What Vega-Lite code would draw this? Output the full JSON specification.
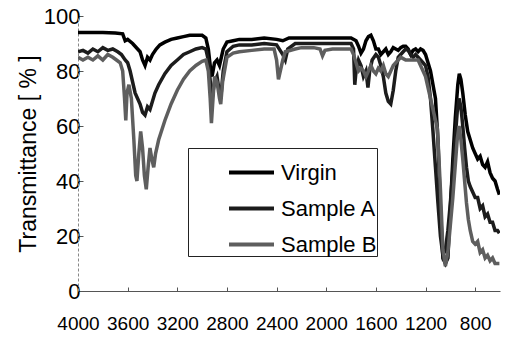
{
  "$schema": "https://vega.github.io/schema/vega-lite/v6.json",
  "width": 422,
  "height": 275,
  "autosize": "none",
  "padding": {"left": 78, "top": 16, "right": 9, "bottom": 48},
  "background": "white",
  "config": {
    "view": {"stroke": null},
    "axis": {"grid": false, "labelColor": "black", "titleColor": "black", "domainColor": "#555", "tickColor": "#555"}
  },
  "data": {
    "values": [
      {"s":"Virgin","x":4000,"y":94},{"s":"Virgin","x":3900,"y":94},{"s":"Virgin","x":3800,"y":94},{"s":"Virgin","x":3700,"y":93.8},{"s":"Virgin","x":3640,"y":93.5},{"s":"Virgin","x":3620,"y":91},{"s":"Virgin","x":3600,"y":91.5},{"s":"Virgin","x":3560,"y":90},{"s":"Virgin","x":3520,"y":88},{"s":"Virgin","x":3500,"y":87},{"s":"Virgin","x":3480,"y":84},{"s":"Virgin","x":3460,"y":82},{"s":"Virgin","x":3440,"y":85},{"s":"Virgin","x":3420,"y":84},{"s":"Virgin","x":3400,"y":86},{"s":"Virgin","x":3370,"y":88},{"s":"Virgin","x":3340,"y":89.5},{"s":"Virgin","x":3300,"y":90.5},{"s":"Virgin","x":3250,"y":91.5},{"s":"Virgin","x":3200,"y":92},{"s":"Virgin","x":3150,"y":92.5},{"s":"Virgin","x":3100,"y":93},{"s":"Virgin","x":3050,"y":93},{"s":"Virgin","x":3000,"y":93},{"s":"Virgin","x":2970,"y":92},{"s":"Virgin","x":2950,"y":88},{"s":"Virgin","x":2930,"y":80},{"s":"Virgin","x":2920,"y":78},{"s":"Virgin","x":2900,"y":83},{"s":"Virgin","x":2880,"y":84},{"s":"Virgin","x":2860,"y":82},{"s":"Virgin","x":2850,"y":84},{"s":"Virgin","x":2830,"y":88},{"s":"Virgin","x":2800,"y":90.5},{"s":"Virgin","x":2750,"y":91},{"s":"Virgin","x":2700,"y":91.5},{"s":"Virgin","x":2600,"y":91.5},{"s":"Virgin","x":2500,"y":92},{"s":"Virgin","x":2400,"y":91.5},{"s":"Virgin","x":2350,"y":91},{"s":"Virgin","x":2300,"y":92},{"s":"Virgin","x":2200,"y":92},{"s":"Virgin","x":2100,"y":92},{"s":"Virgin","x":2000,"y":92},{"s":"Virgin","x":1900,"y":92},{"s":"Virgin","x":1800,"y":92},{"s":"Virgin","x":1760,"y":91},{"s":"Virgin","x":1740,"y":89},{"s":"Virgin","x":1720,"y":86.5},{"s":"Virgin","x":1700,"y":88},{"s":"Virgin","x":1680,"y":91},{"s":"Virgin","x":1660,"y":92.5},{"s":"Virgin","x":1640,"y":93},{"s":"Virgin","x":1620,"y":91},{"s":"Virgin","x":1600,"y":88},{"s":"Virgin","x":1580,"y":88},{"s":"Virgin","x":1560,"y":86},{"s":"Virgin","x":1540,"y":87},{"s":"Virgin","x":1520,"y":88},{"s":"Virgin","x":1500,"y":86},{"s":"Virgin","x":1480,"y":87},{"s":"Virgin","x":1460,"y":88.5},{"s":"Virgin","x":1440,"y":88},{"s":"Virgin","x":1420,"y":87.5},{"s":"Virgin","x":1400,"y":88.5},{"s":"Virgin","x":1380,"y":89},{"s":"Virgin","x":1360,"y":89},{"s":"Virgin","x":1340,"y":88},{"s":"Virgin","x":1320,"y":86},{"s":"Virgin","x":1300,"y":87.5},{"s":"Virgin","x":1280,"y":88},{"s":"Virgin","x":1260,"y":87},{"s":"Virgin","x":1240,"y":88},{"s":"Virgin","x":1220,"y":87.5},{"s":"Virgin","x":1200,"y":86},{"s":"Virgin","x":1160,"y":80},{"s":"Virgin","x":1120,"y":70},{"s":"Virgin","x":1100,"y":55},{"s":"Virgin","x":1080,"y":30},{"s":"Virgin","x":1060,"y":12},{"s":"Virgin","x":1040,"y":10},{"s":"Virgin","x":1020,"y":12},{"s":"Virgin","x":1000,"y":30},{"s":"Virgin","x":980,"y":48},{"s":"Virgin","x":960,"y":63},{"s":"Virgin","x":940,"y":75},{"s":"Virgin","x":928,"y":79},{"s":"Virgin","x":915,"y":77},{"s":"Virgin","x":900,"y":72},{"s":"Virgin","x":880,"y":64},{"s":"Virgin","x":860,"y":58},{"s":"Virgin","x":840,"y":55},{"s":"Virgin","x":820,"y":52},{"s":"Virgin","x":800,"y":50},{"s":"Virgin","x":780,"y":48},{"s":"Virgin","x":760,"y":49},{"s":"Virgin","x":740,"y":46},{"s":"Virgin","x":720,"y":45},{"s":"Virgin","x":700,"y":47},{"s":"Virgin","x":680,"y":43},{"s":"Virgin","x":660,"y":41},{"s":"Virgin","x":640,"y":40},{"s":"Virgin","x":620,"y":37},{"s":"Virgin","x":605,"y":35},

      {"s":"Sample A","x":4000,"y":87},{"s":"Sample A","x":3960,"y":87.5},{"s":"Sample A","x":3920,"y":86.5},{"s":"Sample A","x":3880,"y":88},{"s":"Sample A","x":3840,"y":87},{"s":"Sample A","x":3800,"y":88.5},{"s":"Sample A","x":3760,"y":87.5},{"s":"Sample A","x":3720,"y":88},{"s":"Sample A","x":3680,"y":87},{"s":"Sample A","x":3650,"y":86},{"s":"Sample A","x":3620,"y":84},{"s":"Sample A","x":3600,"y":83},{"s":"Sample A","x":3580,"y":80},{"s":"Sample A","x":3560,"y":76},{"s":"Sample A","x":3540,"y":72},{"s":"Sample A","x":3520,"y":70},{"s":"Sample A","x":3500,"y":68},{"s":"Sample A","x":3480,"y":65},{"s":"Sample A","x":3460,"y":64},{"s":"Sample A","x":3440,"y":67},{"s":"Sample A","x":3420,"y":66},{"s":"Sample A","x":3400,"y":69},{"s":"Sample A","x":3380,"y":72},{"s":"Sample A","x":3350,"y":75},{"s":"Sample A","x":3300,"y":79},{"s":"Sample A","x":3250,"y":82},{"s":"Sample A","x":3200,"y":84},{"s":"Sample A","x":3150,"y":86},{"s":"Sample A","x":3100,"y":87},{"s":"Sample A","x":3050,"y":88},{"s":"Sample A","x":3000,"y":88.5},{"s":"Sample A","x":2970,"y":88},{"s":"Sample A","x":2950,"y":84},{"s":"Sample A","x":2930,"y":74},{"s":"Sample A","x":2920,"y":70},{"s":"Sample A","x":2900,"y":76},{"s":"Sample A","x":2880,"y":78},{"s":"Sample A","x":2860,"y":72},{"s":"Sample A","x":2850,"y":70},{"s":"Sample A","x":2830,"y":80},{"s":"Sample A","x":2800,"y":87},{"s":"Sample A","x":2750,"y":89},{"s":"Sample A","x":2700,"y":89.5},{"s":"Sample A","x":2600,"y":89.5},{"s":"Sample A","x":2500,"y":90},{"s":"Sample A","x":2400,"y":89.5},{"s":"Sample A","x":2350,"y":86},{"s":"Sample A","x":2330,"y":84},{"s":"Sample A","x":2310,"y":88},{"s":"Sample A","x":2250,"y":90},{"s":"Sample A","x":2200,"y":90},{"s":"Sample A","x":2100,"y":90},{"s":"Sample A","x":2000,"y":90},{"s":"Sample A","x":1900,"y":90},{"s":"Sample A","x":1800,"y":90},{"s":"Sample A","x":1780,"y":88},{"s":"Sample A","x":1770,"y":75},{"s":"Sample A","x":1760,"y":80},{"s":"Sample A","x":1740,"y":84},{"s":"Sample A","x":1720,"y":82},{"s":"Sample A","x":1700,"y":78},{"s":"Sample A","x":1680,"y":80},{"s":"Sample A","x":1664,"y":74},{"s":"Sample A","x":1650,"y":80},{"s":"Sample A","x":1630,"y":84},{"s":"Sample A","x":1600,"y":86},{"s":"Sample A","x":1580,"y":85},{"s":"Sample A","x":1560,"y":82},{"s":"Sample A","x":1540,"y":78},{"s":"Sample A","x":1520,"y":72},{"s":"Sample A","x":1500,"y":69},{"s":"Sample A","x":1480,"y":68},{"s":"Sample A","x":1460,"y":73},{"s":"Sample A","x":1440,"y":80},{"s":"Sample A","x":1420,"y":85},{"s":"Sample A","x":1400,"y":86},{"s":"Sample A","x":1380,"y":87},{"s":"Sample A","x":1360,"y":88},{"s":"Sample A","x":1340,"y":87.5},{"s":"Sample A","x":1320,"y":86},{"s":"Sample A","x":1300,"y":85},{"s":"Sample A","x":1280,"y":86},{"s":"Sample A","x":1260,"y":85},{"s":"Sample A","x":1240,"y":84},{"s":"Sample A","x":1220,"y":83},{"s":"Sample A","x":1200,"y":82},{"s":"Sample A","x":1180,"y":78},{"s":"Sample A","x":1160,"y":70},{"s":"Sample A","x":1140,"y":58},{"s":"Sample A","x":1120,"y":45},{"s":"Sample A","x":1100,"y":32},{"s":"Sample A","x":1080,"y":20},{"s":"Sample A","x":1060,"y":13},{"s":"Sample A","x":1040,"y":15},{"s":"Sample A","x":1020,"y":22},{"s":"Sample A","x":1000,"y":32},{"s":"Sample A","x":980,"y":44},{"s":"Sample A","x":960,"y":56},{"s":"Sample A","x":945,"y":65},{"s":"Sample A","x":930,"y":70},{"s":"Sample A","x":915,"y":67},{"s":"Sample A","x":900,"y":60},{"s":"Sample A","x":885,"y":52},{"s":"Sample A","x":870,"y":45},{"s":"Sample A","x":855,"y":40},{"s":"Sample A","x":840,"y":38},{"s":"Sample A","x":820,"y":36},{"s":"Sample A","x":800,"y":34},{"s":"Sample A","x":780,"y":34},{"s":"Sample A","x":760,"y":30},{"s":"Sample A","x":740,"y":31},{"s":"Sample A","x":720,"y":27},{"s":"Sample A","x":700,"y":28},{"s":"Sample A","x":680,"y":25},{"s":"Sample A","x":660,"y":25},{"s":"Sample A","x":640,"y":22},{"s":"Sample A","x":620,"y":22},{"s":"Sample A","x":605,"y":21},

      {"s":"Sample B","x":4000,"y":85},{"s":"Sample B","x":3960,"y":84},{"s":"Sample B","x":3920,"y":85},{"s":"Sample B","x":3880,"y":84},{"s":"Sample B","x":3840,"y":85.5},{"s":"Sample B","x":3800,"y":84},{"s":"Sample B","x":3760,"y":86},{"s":"Sample B","x":3720,"y":85},{"s":"Sample B","x":3690,"y":84},{"s":"Sample B","x":3660,"y":83},{"s":"Sample B","x":3640,"y":80},{"s":"Sample B","x":3625,"y":70},{"s":"Sample B","x":3615,"y":62},{"s":"Sample B","x":3605,"y":72},{"s":"Sample B","x":3590,"y":75},{"s":"Sample B","x":3570,"y":70},{"s":"Sample B","x":3550,"y":55},{"s":"Sample B","x":3535,"y":42},{"s":"Sample B","x":3525,"y":40},{"s":"Sample B","x":3510,"y":50},{"s":"Sample B","x":3495,"y":58},{"s":"Sample B","x":3480,"y":52},{"s":"Sample B","x":3465,"y":42},{"s":"Sample B","x":3450,"y":37},{"s":"Sample B","x":3435,"y":45},{"s":"Sample B","x":3420,"y":52},{"s":"Sample B","x":3405,"y":48},{"s":"Sample B","x":3390,"y":45},{"s":"Sample B","x":3375,"y":50},{"s":"Sample B","x":3350,"y":55},{"s":"Sample B","x":3300,"y":62},{"s":"Sample B","x":3250,"y":68},{"s":"Sample B","x":3200,"y":73},{"s":"Sample B","x":3150,"y":77},{"s":"Sample B","x":3100,"y":80},{"s":"Sample B","x":3050,"y":82},{"s":"Sample B","x":3000,"y":83.5},{"s":"Sample B","x":2970,"y":84},{"s":"Sample B","x":2950,"y":80},{"s":"Sample B","x":2935,"y":70},{"s":"Sample B","x":2925,"y":61},{"s":"Sample B","x":2915,"y":68},{"s":"Sample B","x":2900,"y":78},{"s":"Sample B","x":2880,"y":76},{"s":"Sample B","x":2860,"y":70},{"s":"Sample B","x":2850,"y":68},{"s":"Sample B","x":2835,"y":76},{"s":"Sample B","x":2800,"y":85},{"s":"Sample B","x":2750,"y":86.5},{"s":"Sample B","x":2700,"y":87},{"s":"Sample B","x":2600,"y":87.5},{"s":"Sample B","x":2500,"y":88},{"s":"Sample B","x":2420,"y":88},{"s":"Sample B","x":2400,"y":84},{"s":"Sample B","x":2385,"y":77},{"s":"Sample B","x":2370,"y":80},{"s":"Sample B","x":2350,"y":84},{"s":"Sample B","x":2330,"y":87},{"s":"Sample B","x":2250,"y":88},{"s":"Sample B","x":2200,"y":88.5},{"s":"Sample B","x":2100,"y":88.5},{"s":"Sample B","x":2050,"y":88},{"s":"Sample B","x":2030,"y":85.5},{"s":"Sample B","x":2010,"y":87.5},{"s":"Sample B","x":1950,"y":88},{"s":"Sample B","x":1900,"y":88},{"s":"Sample B","x":1800,"y":88},{"s":"Sample B","x":1780,"y":86},{"s":"Sample B","x":1760,"y":83},{"s":"Sample B","x":1740,"y":80},{"s":"Sample B","x":1720,"y":81},{"s":"Sample B","x":1700,"y":80},{"s":"Sample B","x":1680,"y":78},{"s":"Sample B","x":1660,"y":80},{"s":"Sample B","x":1640,"y":82},{"s":"Sample B","x":1620,"y":80},{"s":"Sample B","x":1600,"y":79},{"s":"Sample B","x":1580,"y":81},{"s":"Sample B","x":1560,"y":80},{"s":"Sample B","x":1540,"y":82},{"s":"Sample B","x":1520,"y":79},{"s":"Sample B","x":1500,"y":78},{"s":"Sample B","x":1480,"y":80},{"s":"Sample B","x":1460,"y":82},{"s":"Sample B","x":1440,"y":83},{"s":"Sample B","x":1420,"y":84},{"s":"Sample B","x":1400,"y":85},{"s":"Sample B","x":1380,"y":84.5},{"s":"Sample B","x":1360,"y":84},{"s":"Sample B","x":1340,"y":84},{"s":"Sample B","x":1300,"y":84},{"s":"Sample B","x":1260,"y":84},{"s":"Sample B","x":1230,"y":81},{"s":"Sample B","x":1200,"y":78},{"s":"Sample B","x":1150,"y":68},{"s":"Sample B","x":1104,"y":59},{"s":"Sample B","x":1080,"y":37},{"s":"Sample B","x":1060,"y":15},{"s":"Sample B","x":1040,"y":9},{"s":"Sample B","x":1020,"y":14},{"s":"Sample B","x":1000,"y":24},{"s":"Sample B","x":980,"y":34},{"s":"Sample B","x":960,"y":46},{"s":"Sample B","x":945,"y":55},{"s":"Sample B","x":930,"y":60},{"s":"Sample B","x":915,"y":55},{"s":"Sample B","x":900,"y":48},{"s":"Sample B","x":885,"y":40},{"s":"Sample B","x":870,"y":32},{"s":"Sample B","x":855,"y":26},{"s":"Sample B","x":840,"y":22},{"s":"Sample B","x":820,"y":18},{"s":"Sample B","x":800,"y":17},{"s":"Sample B","x":780,"y":18},{"s":"Sample B","x":760,"y":14},{"s":"Sample B","x":740,"y":15},{"s":"Sample B","x":720,"y":12},{"s":"Sample B","x":700,"y":13},{"s":"Sample B","x":680,"y":11},{"s":"Sample B","x":660,"y":12},{"s":"Sample B","x":640,"y":10},{"s":"Sample B","x":620,"y":10},{"s":"Sample B","x":605,"y":10}
    ]
  },
  "mark": {"type": "line", "strokeWidth": 3.5, "clip": true},
  "encoding": {
    "x": {
      "field": "x", "type": "quantitative",
      "scale": {"domain": [4000, 600], "nice": false, "zero": false},
      "axis": {
        "title": null, "values": [4000,3600,3200,2800,2400,2000,1600,1200,800], "format": "d",
        "labelFont": "Liberation Sans", "labelFontSize": 19, "labelPadding": 27, "labelOverlap": false,
        "tickSize": -4, "domainWidth": 1, "labelFlush": false
      }
    },
    "y": {
      "field": "y", "type": "quantitative",
      "scale": {"domain": [0, 100], "nice": false},
      "axis": {
        "title": "Transmittance [ % ]", "values": [0,20,40,60,80,100],
        "labelFont": "Liberation Sans", "labelFontSize": 22, "labelPadding": 3,
        "tickSize": -5, "domainDash": [3,2], "domainColor": "#888",
        "titleFont": "Liberation Sans", "titleFontSize": 23, "titleFontWeight": "normal", "titlePadding": 3
      }
    },
    "color": {
      "field": "s", "type": "nominal",
      "scale": {"domain": ["Virgin", "Sample A", "Sample B"], "range": ["#000000", "#1c1c1c", "#5e5e5e"]},
      "legend": {
        "title": null,
        "orient": "none", "legendX": 110, "legendY": 132,
        "strokeColor": "#222", "padding": 0, "fillColor": "white",
        "symbolType": "stroke", "symbolSize": 2025, "symbolStrokeWidth": 4, "symbolOffset": 39,
        "labelFont": "Liberation Sans", "labelFontSize": 22, "labelOffset": 5, "labelColor": "black",
        "rowPadding": 0
      }
    }
  }
}
